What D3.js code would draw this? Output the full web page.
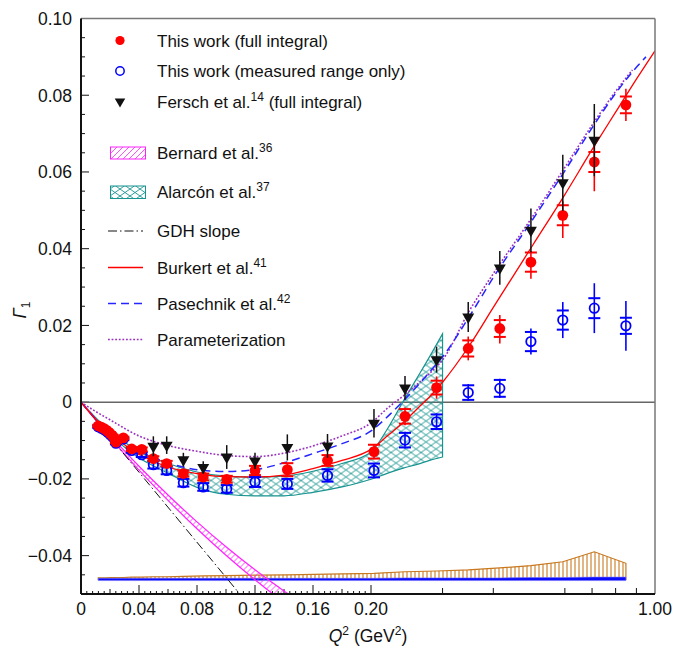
<!DOCTYPE html>
<html>
<head>
<meta charset="utf-8">
<title>gamma1-proton</title>
<style>
body { margin: 0; background: #fff; }
text { font-family: "Liberation Sans", Arial, Helvetica, sans-serif; fill: #111; }
</style>
</head>
<body>
<script src="https://cdn.jsdelivr.net/npm/d3@7"></script>
<script>
// ---- data ----
var q2Points = [0.0119, 0.0140, 0.0160, 0.0180, 0.0200, 0.0218, 0.0241, 0.0292, 0.0350, 0.0419,
    0.0499, 0.0591, 0.0706, 0.0843, 0.1005, 0.1200, 0.1423, 0.1700, 0.2034, 0.2425,
    0.2900, 0.3470, 0.4150, 0.4950, 0.5930, 0.7090, 0.8480];
var fullIntegral = [-0.0062, -0.0065, -0.0069, -0.0074, -0.0081, -0.0088, -0.0104, -0.0093, -0.0122, -0.0123,
    -0.0147, -0.0160, -0.0186, -0.0195, -0.0201, -0.0178, -0.0176, -0.0152, -0.0129, -0.0037,
    0.0038, 0.0140, 0.0192, 0.0365, 0.0487, 0.0626, 0.0775];
var fullStat = [0.0003, 0.0003, 0.0003, 0.0003, 0.0003, 0.0003, 0.0003, 0.0003, 0.0005, 0.0005,
    0.0006, 0.0007, 0.0008, 0.0009, 0.0009, 0.0012, 0.0017, 0.0014, 0.0018, 0.0019,
    0.0018, 0.0021, 0.0022, 0.0025, 0.0026, 0.0026, 0.0022];
var fullErrUp = [0.0004, 0.0004, 0.0004, 0.0004, 0.0004, 0.0004, 0.0004, 0.0004, 0.0006, 0.0006,
    0.0007, 0.0008, 0.0009, 0.0010, 0.0010, 0.0013, 0.0018, 0.0016, 0.0020, 0.0023,
    0.0029, 0.0031, 0.0035, 0.0029, 0.0037, 0.0059, 0.0042];
var fullErrDown = [0.0004, 0.0004, 0.0004, 0.0004, 0.0004, 0.0004, 0.0004, 0.0004, 0.0006, 0.0006,
    0.0007, 0.0008, 0.0009, 0.0010, 0.0010, 0.0013, 0.0018, 0.0016, 0.0020, 0.0023,
    0.0029, 0.0031, 0.0039, 0.0043, 0.0059, 0.0076, 0.0042];

var measuredOnly = [-0.0064, -0.0068, -0.0072, -0.0077, -0.0084, -0.0091, -0.0107, -0.0096, -0.0126, -0.0137,
    -0.0163, -0.0178, -0.0210, -0.0221, -0.0226, -0.0208, -0.0213, -0.0191, -0.0178, -0.0099,
    -0.0051, 0.0025, 0.0036, 0.0158, 0.0214, 0.0245, 0.0199];
var measuredStat = [0.0003, 0.0003, 0.0003, 0.0003, 0.0003, 0.0003, 0.0003, 0.0003, 0.0006, 0.0006,
    0.0010, 0.0010, 0.0010, 0.0010, 0.0010, 0.0013, 0.0013, 0.0016, 0.0018, 0.0019,
    0.0019, 0.0019, 0.0022, 0.0025, 0.0025, 0.0026, 0.0021];
var measuredErr = [0.0004, 0.0004, 0.0004, 0.0004, 0.0004, 0.0004, 0.0004, 0.0004, 0.0007, 0.0007,
    0.0011, 0.0011, 0.0011, 0.0011, 0.0011, 0.0014, 0.0014, 0.0017, 0.0019, 0.0022,
    0.0022, 0.0022, 0.0025, 0.0034, 0.0047, 0.0065, 0.0065];

var ferschQ2 = [0.0499, 0.0591, 0.0706, 0.0843, 0.1005, 0.1200, 0.1423, 0.1700, 0.2034, 0.2425,
    0.2900, 0.3470, 0.4150, 0.4950, 0.5930, 0.7090];
var fersch = [-0.0115, -0.0112, -0.0150, -0.0170, -0.0143, -0.0153, -0.0118, -0.0114, -0.0055, 0.0037,
    0.0111, 0.0222, 0.0350, 0.0448, 0.0572, 0.0683];
var ferschErr = [0.0026, 0.0023, 0.0018, 0.0016, 0.0031, 0.0021, 0.0034, 0.0031, 0.0037, 0.0031,
    0.0034, 0.0039, 0.0044, 0.0057, 0.0073, 0.0094];

// systematic bands at the bottom
var sysFullTop = [-0.0458, -0.0458, -0.0458, -0.0458, -0.0457, -0.0457, -0.0457, -0.0457, -0.0456, -0.0456,
    -0.0455, -0.0455, -0.0454, -0.0453, -0.0452, -0.0451, -0.0450, -0.0448, -0.0446, -0.0442,
    -0.0440, -0.0437, -0.0432, -0.0426, -0.0416, -0.0390, -0.0420];
var sysFullBase = -0.0462;
var sysMeasTop = [-0.0459, -0.0459, -0.0459, -0.0459, -0.0459, -0.0459, -0.0459, -0.0459, -0.0459, -0.0459,
    -0.0459, -0.0459, -0.0459, -0.0459, -0.0459, -0.0459, -0.0459, -0.0459, -0.0459, -0.0458,
    -0.0458, -0.0458, -0.0458, -0.0457, -0.0457, -0.0456, -0.0456];
var sysMeasBase = -0.0465;

// model curves
var burkertQ2 = [0, 0.01, 0.02, 0.03, 0.04, 0.05, 0.06, 0.08, 0.10, 0.12, 0.14, 0.16, 0.18, 0.20,
    0.22, 0.24, 0.26, 0.28, 0.30, 0.35, 0.40, 0.50, 0.60, 0.70, 0.80, 0.90, 1.00];
var burkert = [0, -0.0044, -0.0082, -0.0111, -0.0136, -0.0154, -0.0169, -0.0186, -0.0194, -0.0195, -0.0190, -0.0173, -0.0152, -0.0123,
    -0.0087, -0.0053, -0.0017, 0.0016, 0.0052, 0.0149, 0.0247, 0.0409, 0.0541, 0.0658, 0.0756, 0.0842, 0.0916];

var pasechnikQ2 = [0, 0.01, 0.02, 0.03, 0.04, 0.06, 0.08, 0.10, 0.12, 0.14, 0.16, 0.18, 0.20,
    0.22, 0.24, 0.26, 0.28, 0.30, 0.35, 0.40, 0.50, 0.60, 0.70, 0.80, 0.90, 0.95];
var pasechnik = [0, -0.0043, -0.0078, -0.0105, -0.0127, -0.0158, -0.0176, -0.0181, -0.0176, -0.0158, -0.0134, -0.0108, -0.0075,
    -0.0037, 0.0003, 0.0042, 0.0081, 0.0118, 0.0225, 0.0325, 0.0476, 0.0603, 0.0715, 0.0805, 0.0873, 0.0900];

var paramQ2 = [0, 0.01, 0.02, 0.04, 0.06, 0.08, 0.10, 0.12, 0.14, 0.16, 0.18, 0.20,
    0.22, 0.24, 0.26, 0.28, 0.30, 0.35, 0.40, 0.50, 0.60, 0.70, 0.80, 0.88];
var param = [0, -0.0024, -0.0046, -0.0088, -0.0113, -0.0128, -0.0139, -0.0142, -0.0133, -0.0114, -0.0088, -0.0054,
    -0.0015, 0.0016, 0.0047, 0.0077, 0.0110, 0.0240, 0.0335, 0.0484, 0.0612, 0.0722, 0.0810, 0.0866];

var gdhQ2 = [0, 0.115];
var gdh = [0, -0.0525];

var bernardQ2 = [0, 0.02, 0.04, 0.06, 0.08, 0.10, 0.12, 0.14, 0.15];
var bernardLow = [0, -0.0092, -0.0177, -0.0256, -0.0330, -0.0399, -0.0463, -0.0522, -0.0549];
var bernardHigh = [0, -0.0086, -0.0167, -0.0242, -0.0312, -0.0377, -0.0437, -0.0492, -0.0517];

var alarconQ2 = [0, 0.02, 0.04, 0.06, 0.08, 0.10, 0.12, 0.14, 0.16, 0.18, 0.20, 0.22, 0.24, 0.26, 0.28, 0.30];
var alarconLow = [0, -0.0084, -0.0145, -0.0185, -0.0222, -0.0240, -0.0244, -0.0244, -0.0235, -0.0221, -0.0201,
    -0.0185, -0.0172, -0.0162, -0.0151, -0.0143];
var alarconHigh = [0, -0.0076, -0.0128, -0.0160, -0.0182, -0.0193, -0.0196, -0.0193, -0.0180, -0.0160, -0.0130,
    -0.0068, 0.0002, 0.0064, 0.0122, 0.0178];

var xTickLabels = ["0", "0.04", "0.08", "0.12", "0.16", "0.20"];
var xLogTicks = [0.3, 0.4, 0.6, 0.7, 0.8, 0.9];

// ---- layout ----
var totalWidth = 675, totalHeight = 646;
var margin = { top: 18.5, right: 20, bottom: 52, left: 81 };
var width = totalWidth - margin.left - margin.right,
    height = totalHeight - margin.top - margin.bottom;
var linWidth = 290;
var FS = "17.5px", SUP = "12px";

var RED = "#ff0000", BLUE = "#0000ff", TEAL = "#17948f", MAG = "#ff22ff", ORANGE = "#c8781e";

var svg = d3.select("body").append("svg")
    .attr("width", totalWidth)
    .attr("height", totalHeight);
var defs = svg.append("defs");
var g = svg.append("g").attr("transform", "translate(" + margin.left + "," + margin.top + ")");

/* x axis is linear up to 0.2 and logarithmic from 0.2 to 1 */
var xLin = d3.scaleLinear().domain([0, 0.2]).range([0, linWidth]);
var xLog = d3.scaleLog().domain([0.2, 1]).range([linWidth, width]);
function x(q) { return q <= 0.2 ? xLin(q) : xLog(q); }
var y = d3.scaleLinear().domain([-0.05, 0.10]).range([height, 0]);

// patterns
var p1 = defs.append("pattern").attr("id", "hatchMag").attr("patternUnits", "userSpaceOnUse")
    .attr("width", 6).attr("height", 6);
p1.append("path").attr("d", "M0,6 L6,0 M-1,1 L1,-1 M5,7 L7,5")
    .attr("stroke", MAG).attr("stroke-width", 0.8);
var p2 = defs.append("pattern").attr("id", "hatchTeal").attr("patternUnits", "userSpaceOnUse")
    .attr("width", 10).attr("height", 7);
p2.append("path").attr("d", "M0,0 L10,7 M0,7 L10,0")
    .attr("stroke", TEAL).attr("stroke-width", 0.9);
var p3 = defs.append("pattern").attr("id", "hatchOrange").attr("patternUnits", "userSpaceOnUse")
    .attr("width", 4).attr("height", 10);
p3.append("path").attr("d", "M2,0 L2,10").attr("stroke", ORANGE).attr("stroke-width", 1.1);

defs.append("clipPath").attr("id", "plotClip").append("rect")
    .attr("width", width).attr("height", height);

// ---- ticks ----
var tickG = g.append("g").attr("stroke", "#111");
d3.range(0, 51).forEach(function (i) {
    var len = i % 10 === 0 ? 9 : (i % 5 === 0 ? 5 : 3);
    tickG.append("line").attr("x1", x(i * 0.004)).attr("x2", x(i * 0.004))
        .attr("y1", height).attr("y2", height - len).attr("stroke-width", 1);
});
xLogTicks.forEach(function (q) {
    tickG.append("line").attr("x1", x(q)).attr("x2", x(q))
        .attr("y1", height).attr("y2", height - 6).attr("stroke-width", 1);
});
d3.range(-10, 21).forEach(function (i) {
    var len = i % 4 === 0 ? 8 : 4;
    tickG.append("line").attr("x1", 0).attr("x2", len)
        .attr("y1", y(i * 0.005)).attr("y2", y(i * 0.005)).attr("stroke-width", 1);
});

// tick labels
xTickLabels.forEach(function (t, i) {
    g.append("text").attr("x", x(i * 0.04)).attr("y", height + 21)
        .attr("text-anchor", "middle").style("font-size", FS).text(t);
});
g.append("text").attr("x", x(1)).attr("y", height + 21)
    .attr("text-anchor", "middle").style("font-size", FS).text("1.00");
d3.range(-2, 6).forEach(function (k) {
    var v = k * 0.02;
    var s = k === 0 ? "0" : d3.format(".2f")(Math.abs(v));
    if (k < 0) s = "\u2212" + s;
    g.append("text").attr("x", -9).attr("y", y(v)).attr("dy", "0.36em")
        .attr("text-anchor", "end").style("font-size", FS).text(s);
});

// axis titles
var yl = g.append("text").attr("transform", "translate(" + (-55) + "," + y(0.024) + ") rotate(-90)")
    .attr("text-anchor", "middle").style("font-size", "18px");
yl.append("tspan").style("font-style", "italic").text("\u0393");
yl.append("tspan").attr("dy", 4).style("font-size", SUP).text("1");

var xl = g.append("text").attr("x", width / 2).attr("y", height + 48)
    .attr("text-anchor", "middle").style("font-size", FS);
xl.append("tspan").style("font-style", "italic").text("Q");
xl.append("tspan").attr("dy", -7).style("font-size", SUP).text("2");
xl.append("tspan").attr("dy", 7).text(" (GeV");
xl.append("tspan").attr("dy", -7).style("font-size", SUP).text("2");
xl.append("tspan").attr("dy", 7).text(")");

// ---- plot contents ----
var plot = g.append("g").attr("clip-path", "url(#plotClip)");

plot.append("line").attr("x1", 0).attr("x2", width).attr("y1", y(0)).attr("y2", y(0))
    .attr("stroke", "#666").attr("stroke-width", 1.5);

var pts = q2Points.map(function (q, i) {
    return { q: q, full: fullIntegral[i], fs: fullStat[i], fu: fullErrUp[i], fd: fullErrDown[i],
        meas: measuredOnly[i], ms: measuredStat[i], me: measuredErr[i],
        sTop: sysFullTop[i], mTop: sysMeasTop[i] };
});

// systematic bands
plot.append("path").datum(pts)
    .attr("d", d3.area().x(function (d) { return x(d.q); })
        .y0(y(sysFullBase)).y1(function (d) { return y(d.sTop); }))
    .attr("fill", "url(#hatchOrange)").attr("stroke", ORANGE).attr("stroke-width", 1.2);
plot.append("path").datum(pts)
    .attr("d", d3.area().x(function (d) { return x(d.q); })
        .y0(y(sysMeasBase)).y1(function (d) { return y(d.mTop); }))
    .attr("fill", "#0a0aff").attr("stroke", "#6f6fff").attr("stroke-width", 0.6);

// Alarcon band
var alarcon = alarconQ2.map(function (q, i) { return { q: q, lo: alarconLow[i], hi: alarconHigh[i] }; });
plot.append("path").datum(alarcon)
    .attr("d", d3.area().x(function (d) { return x(d.q); })
        .y0(function (d) { return y(d.lo); }).y1(function (d) { return y(d.hi); })
        .curve(d3.curveMonotoneX))
    .attr("fill", "url(#hatchTeal)").attr("stroke", TEAL).attr("stroke-width", 1.2);

// Bernard band
var bernard = bernardQ2.map(function (q, i) { return { q: q, lo: bernardLow[i], hi: bernardHigh[i] }; });
plot.append("path").datum(bernard)
    .attr("d", d3.area().x(function (d) { return x(d.q); })
        .y0(function (d) { return y(d.lo); }).y1(function (d) { return y(d.hi); })
        .curve(d3.curveMonotoneX))
    .attr("fill", "url(#hatchMag)").attr("stroke", MAG).attr("stroke-width", 1.2);

// curves
function curve(qs, vs, color, dash, w) {
    plot.append("path").datum(qs.map(function (q, i) { return [q, vs[i]]; }))
        .attr("d", d3.line().x(function (d) { return x(d[0]); }).y(function (d) { return y(d[1]); })
            .curve(d3.curveMonotoneX))
        .attr("fill", "none").attr("stroke", color).attr("stroke-width", w)
        .attr("stroke-dasharray", dash);
}
curve(gdhQ2, gdh, "#111", "9,3,1.5,3", 1);
curve(paramQ2, param, "#9b30c0", "1.8,1.8", 1.6);
curve(pasechnikQ2, pasechnik, "#2525ff", "8,5", 1.5);
curve(burkertQ2, burkert, RED, null, 1.3);

// error bars helper
function errBar(cx, v, lo, hi, cap, color, w) {
    plot.append("line").attr("x1", cx).attr("x2", cx).attr("y1", y(v - lo)).attr("y2", y(v + hi))
        .attr("stroke", color).attr("stroke-width", w);
    [v - cap, v + cap].forEach(function (c) {
        plot.append("line").attr("x1", cx - 6).attr("x2", cx + 6).attr("y1", y(c)).attr("y2", y(c))
            .attr("stroke", color).attr("stroke-width", 2);
    });
}

// measured range only (open blue)
pts.forEach(function (d) { errBar(x(d.q), d.meas, d.me, d.me, d.ms, BLUE, 1.6); });
pts.forEach(function (d) {
    plot.append("circle").attr("cx", x(d.q)).attr("cy", y(d.meas)).attr("r", 4.7)
        .attr("fill", "none").attr("stroke", BLUE).attr("stroke-width", 1.8);
});
// full integral (filled red)
pts.forEach(function (d) { errBar(x(d.q), d.full, d.fd, d.fu, d.fs, RED, 1.6); });
pts.forEach(function (d) {
    plot.append("circle").attr("cx", x(d.q)).attr("cy", y(d.full)).attr("r", 5.4).attr("fill", RED);
});
// Fersch (black down triangles)
var tri = d3.symbol().type(d3.symbolTriangle).size(62);
ferschQ2.forEach(function (q, i) {
    var cx = x(q), cy = y(fersch[i]);
    plot.append("line").attr("x1", cx).attr("x2", cx)
        .attr("y1", y(fersch[i] - ferschErr[i])).attr("y2", y(fersch[i] + ferschErr[i]))
        .attr("stroke", "#111").attr("stroke-width", 1.5);
    plot.append("path").attr("d", tri).attr("fill", "#111")
        .attr("transform", "translate(" + cx + "," + cy + ") rotate(180)");
});

// frame
g.append("line").attr("x1", 0).attr("x2", width).attr("y1", 0).attr("y2", 0)
    .attr("stroke", "#777").attr("stroke-width", 1.5);
g.append("line").attr("x1", width).attr("x2", width).attr("y1", 0).attr("y2", height)
    .attr("stroke", "#777").attr("stroke-width", 1.5);
g.append("line").attr("x1", 0).attr("x2", width).attr("y1", height).attr("y2", height)
    .attr("stroke", "#111").attr("stroke-width", 2);
g.append("line").attr("x1", 0).attr("x2", 0).attr("y1", 0).attr("y2", height)
    .attr("stroke", "#111").attr("stroke-width", 2);

// ---- legend ----
var leg = svg.append("g");
var textX = 157;
function legText(cy, main, sup, rest) {
    var t = leg.append("text").attr("x", textX).attr("y", cy).attr("dy", "0.36em")
        .style("font-size", "17px").text(main);
    if (sup) {
        t.append("tspan").attr("dy", -7).style("font-size", SUP).text(sup);
        if (rest) t.append("tspan").attr("dy", 7).text(rest);
    }
}
leg.append("circle").attr("cx", 120).attr("cy", 40.5).attr("r", 4.6).attr("fill", RED);
legText(40.5, "This work (full integral)");
leg.append("circle").attr("cx", 120).attr("cy", 71).attr("r", 4.2).attr("fill", "none")
    .attr("stroke", BLUE).attr("stroke-width", 1.5);
legText(71, "This work (measured range only)");
leg.append("path").attr("d", d3.symbol().type(d3.symbolTriangle).size(48)).attr("fill", "#111")
    .attr("transform", "translate(120,101.5) rotate(180)");
legText(101.5, "Fersch et al.", "14", " (full integral)");
leg.append("rect").attr("x", 110.5).attr("y", 147).attr("width", 35).attr("height", 12)
    .attr("fill", "url(#hatchMag)").attr("stroke", MAG).attr("stroke-width", 1);
legText(152.5, "Bernard et al.", "36");
leg.append("rect").attr("x", 110.5).attr("y", 186).attr("width", 35).attr("height", 12.5)
    .attr("fill", "url(#hatchTeal)").attr("stroke", TEAL).attr("stroke-width", 1);
legText(191.5, "Alarc\u00f3n et al.", "37");
function legLine(cy, color, dash, w) {
    leg.append("line").attr("x1", 108).attr("x2", 143).attr("y1", cy).attr("y2", cy)
        .attr("stroke", color).attr("stroke-width", w).attr("stroke-dasharray", dash);
}
legLine(231, "#111", "9,3,1.5,3", 1);
legText(231, "GDH slope");
legLine(267.5, RED, null, 1.3);
legText(267.5, "Burkert et al.", "41");
legLine(303.5, "#2525ff", "8,5", 1.5);
legText(303.5, "Pasechnik et al.", "42");
legLine(339.5, "#9b30c0", "1.8,1.8", 1.6);
legText(339.5, "Parameterization");
</script>
</body>
</html>
